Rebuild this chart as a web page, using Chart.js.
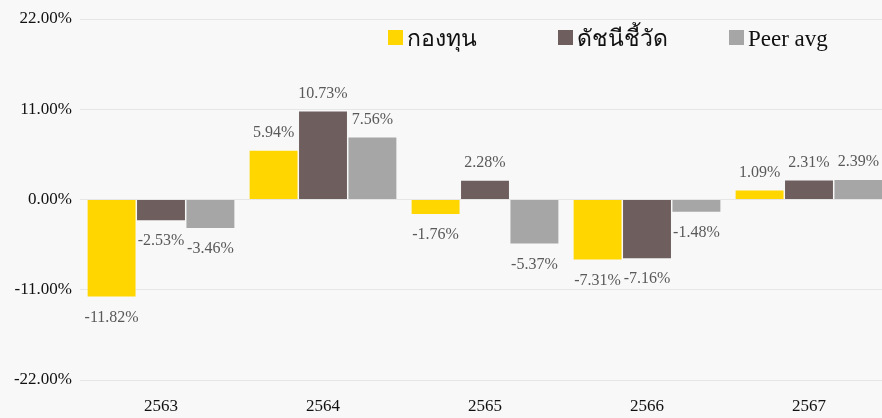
<!DOCTYPE html>
<html>
<head>
<meta charset="utf-8">
<script src="https://cdn.jsdelivr.net/npm/chart.js@4"></script>
<style>
html,body{margin:0;padding:0;background:#f8f8f8;overflow:hidden;width:882px;height:418px;}
#wrap{position:relative;width:890px;height:418px;}
#legend{position:absolute;top:25px;left:0;font-family:"Liberation Serif","Times New Roman",serif;font-size:23px;color:#111;}
.item{position:absolute;white-space:nowrap;top:0;line-height:28px;}
.box{display:inline-block;width:15px;height:15px;margin-right:4px;vertical-align:1px;}
</style>
</head>
<body>
<div id="wrap">
<canvas id="c" width="890" height="418"></canvas>
<div id="legend"></div>
</div>
<script>
const categories = ["2563","2564","2565","2566","2567"];
const seriesNames = ["กองทุน","ดัชนีชี้วัด","Peer avg"];
const fundValues = [-11.82, 5.94, -1.76, -7.31, 1.09];
const benchmarkValues = [-2.53, 10.73, 2.28, -7.16, 2.31];
const peerValues = [-3.46, 7.56, -5.37, -1.48, 2.39];
const yTicks = [-22, -11, 0, 11, 22];
const colors = ["#FFD600","#6E5E5E","#A6A6A6"];
const legendX = [388, 558, 729];

const FONT = '"Liberation Serif","Times New Roman",serif';

const leg = document.getElementById('legend');
seriesNames.forEach((n,i)=>{
  const d=document.createElement('div');d.className='item';d.style.left=legendX[i]+'px';
  d.innerHTML='<span class="box" style="background:'+colors[i]+'"></span>'+n;
  leg.appendChild(d);
});

const labelPlugin = {
  id:'valLabels',
  afterDatasetsDraw(chart){
    const ctx=chart.ctx;
    ctx.save();
    ctx.font='16px '+FONT;
    ctx.fillStyle='#595959';
    ctx.textAlign='center';
    ctx.textBaseline='middle';
    chart.data.datasets.forEach((ds,di)=>{
      const meta=chart.getDatasetMeta(di);
      meta.data.forEach((bar,i)=>{
        const v=ds.data[i];
        const y = v>=0 ? bar.y-18 : bar.y+21;
        ctx.fillText(v.toFixed(2)+'%', bar.x, y);
      });
    });
    ctx.restore();
  }
};

new Chart(document.getElementById('c'),{
  type:'bar',
  data:{
    labels:categories,
    datasets:[
      {label:seriesNames[0],data:fundValues,backgroundColor:colors[0]},
      {label:seriesNames[1],data:benchmarkValues,backgroundColor:colors[1]},
      {label:seriesNames[2],data:peerValues,backgroundColor:colors[2]}
    ].map(d=>Object.assign(d,{borderColor:'#f8f8f8',borderWidth:0,categoryPercentage:0.915,barPercentage:0.97}))
  },
  options:{
    responsive:false,
    animation:false,
    layout:{padding:{top:19,right:0,left:0,bottom:0}},
    plugins:{legend:{display:false},tooltip:{enabled:false}},
    scales:{
      x:{
        grid:{display:false,drawTicks:false},
        border:{display:false},
        ticks:{font:{family:FONT,size:17},color:'#111',padding:16,maxRotation:0},
        afterFit(s){s.height=38;}
      },
      y:{
        min:-22,max:22,
        afterBuildTicks(s){s.ticks=yTicks.map(v=>({value:v}));},
        grid:{color:'#e6e6e6',drawTicks:false,lineWidth:1},
        border:{display:false},
        ticks:{font:{family:FONT,size:17},color:'#111',padding:8,callback:v=>v.toFixed(2)+'%'},
        afterFit(s){s.width=80;}
      }
    }
  },
  plugins:[labelPlugin]
});
</script>
</body>
</html>
